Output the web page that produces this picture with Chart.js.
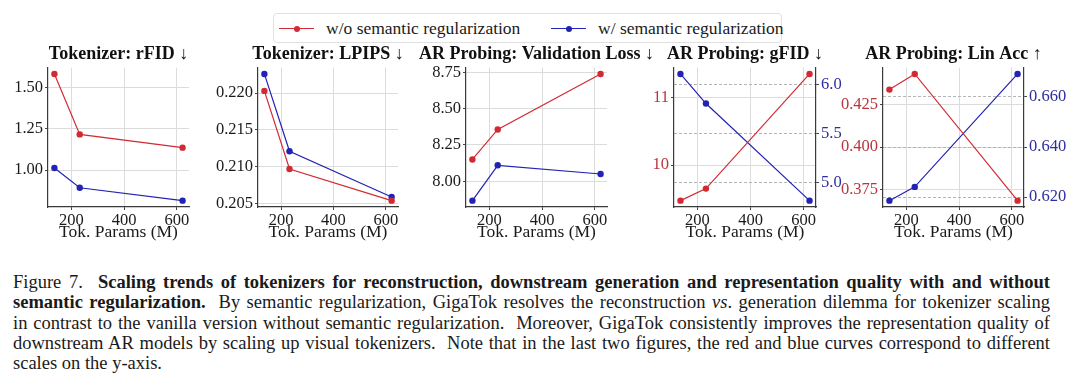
<!DOCTYPE html>
<html><head><meta charset="utf-8">
<script src="https://cdn.jsdelivr.net/npm/chart.js@4/dist/chart.umd.min.js"></script>
<style>
html,body{margin:0;padding:0;background:#fff;}
body{width:1080px;height:391px;overflow:hidden;position:relative;font-family:'Liberation Serif','Times New Roman',serif;color:#1a1a1a;}
.cv{position:absolute;}
#legend{position:absolute;left:273px;top:13px;width:507px;height:28px;border:1px solid #e0e0e0;border-radius:4px;font-size:17.5px;background:#fff;}
.li{position:absolute;top:0;height:28px;line-height:28px;white-space:nowrap;}
.mk{position:absolute;top:14px;height:1.3px;width:35px;}
.dot{position:absolute;top:-2.4px;left:14.5px;width:6px;height:6px;border-radius:50%;}
#caption{position:absolute;left:13px;top:272px;width:1037px;font-size:18.5px;line-height:20.3px;}
.ln{text-align:justify;text-align-last:justify;}
.last{text-align:left;}
</style></head>
<body>
<div id="legend"></div>
<canvas class="cv" id="c1"></canvas>
<canvas class="cv" id="c2"></canvas>
<canvas class="cv" id="c3"></canvas>
<canvas class="cv" id="c4"></canvas>
<canvas class="cv" id="c5"></canvas>
<div id="caption">
<div class="ln">Figure 7.&nbsp; <b>Scaling trends of tokenizers for reconstruction, downstream generation and representation quality with and without</b></div>
<div class="ln"><b>semantic regularization.</b>&nbsp; By semantic regularization, GigaTok resolves the reconstruction <i>vs</i>. generation dilemma for tokenizer scaling</div>
<div class="ln">in contrast to the vanilla version without semantic regularization.&nbsp; Moreover, GigaTok consistently improves the representation quality of</div>
<div class="ln">downstream AR models by scaling up visual tokenizers.&nbsp; Note that in the last two figures, the red and blue curves correspond to different</div>
<div class="last">scales on the y-axis.</div>
</div>
<script>
// ---- data ----
const xVals = [136, 232, 622];
const xTickLabels = ['200', '400', '600'];
const seriesNames = ['w/o semantic regularization', 'w/ semantic regularization'];
const xTitle = 'Tok. Params (M)';
const titles = ['Tokenizer: rFID \u2193', 'Tokenizer: LPIPS \u2193', 'AR Probing: Validation Loss \u2193', 'AR Probing: gFID \u2193', 'AR Probing: Lin Acc \u2191'];

const rfidRed = [1.58, 1.215, 1.135];
const rfidBlue = [1.012, 0.893, 0.815];
const rfidTicks = ['1.00', '1.25', '1.50'];

const lpipsRed = [0.2203, 0.2097, 0.2054];
const lpipsBlue = [0.2226, 0.2121, 0.2059];
const lpipsTicks = ['0.205', '0.210', '0.215', '0.220'];

const lossRed = [8.15, 8.357, 8.74];
const lossBlue = [7.866, 8.11, 8.05];
const lossTicks = ['8.00', '8.25', '8.50', '8.75'];

const gfidRed = [9.47, 9.65, 11.357];
const gfidBlue = [6.105, 5.805, 4.82];
const gfidRedTicks = ['10', '11'];
const gfidBlueTicks = ['5.0', '5.5', '6.0'];

const linRed = [0.4337, 0.4429, 0.3685];
const linBlue = [0.6186, 0.6241, 0.6692];
const linRedTicks = ['0.375', '0.400', '0.425'];
const linBlueTicks = ['0.620', '0.640', '0.660'];

// ---- style ----
const RED = '#d22a32', BLUE = '#2222b4';
const RED_TXT = '#b8343e', BLUE_TXT = '#2e2e9c';
const FONT = "'Liberation Serif', 'Times New Roman', serif";
const LW = 60, TOP = 40, H = 210;

// legend (HTML)
const lg = document.getElementById('legend');
[[seriesNames[0], RED, 5, 52], [seriesNames[1], BLUE, 277, 324]].forEach(([t, c, mx, tx]) => {
  const mk = document.createElement('div'); mk.className = 'mk'; mk.style.left = mx + 'px'; mk.style.background = c;
  const d = document.createElement('div'); d.className = 'dot'; d.style.background = c; mk.appendChild(d);
  lg.appendChild(mk);
  const s = document.createElement('div'); s.className = 'li'; s.style.left = tx + 'px'; s.textContent = t; lg.appendChild(s);
});

function pad(arrs) {
  const all = [].concat(...arrs);
  const mn = Math.min(...all), mx = Math.max(...all), r = mx - mn;
  return [mn - 0.05 * r, mx + 0.05 * r];
}
function pts(ys) { return xVals.map((x, i) => ({x: x, y: ys[i]})); }
function ds(label, ys, color, axis) {
  return {label, data: pts(ys), borderColor: color, backgroundColor: color, borderWidth: 1.2,
    pointRadius: 3.2, pointBorderWidth: 0, pointHoverRadius: 3.2, yAxisID: axis, clip: false, tension: 0};
}
function yScale(labels, range, pos, txtColor, dashed) {
  return {
    type: 'linear', position: pos, min: range[0], max: range[1],
    afterBuildTicks: s => { s.ticks = labels.map(v => ({value: parseFloat(v)})); },
    afterFit: s => { s.width = LW; },
    ticks: {callback: (v, i) => labels[i], font: {family: FONT, size: 16.5}, color: txtColor, padding: 2},
    grid: {color: dashed ? '#b4b4b4' : '#dcdcdc', lineWidth: 1, tickLength: 3, tickColor: '#444', tickWidth: 1},
    border: {display: true, color: '#3a3a3a', width: 1.2, dash: dashed ? [3, 2] : []}
  };
}
function blankRight() {
  return {type: 'linear', position: 'right', min: 0, max: 1, display: true,
    ticks: {display: false}, grid: {display: false, drawTicks: false}, border: {display: false},
    afterFit: s => { s.width = LW; }};
}
function makeChart(id, plotLeft, plotRight, title, datasets, yLeft, yRight) {
  const cv = document.getElementById(id);
  const w = plotRight - plotLeft + 2 * LW;
  cv.width = w; cv.height = H;
  cv.style.left = (plotLeft - LW) + 'px'; cv.style.top = TOP + 'px';
  cv.style.width = w + 'px'; cv.style.height = H + 'px';
  const xr = pad([xVals]);
  const scales = {
    x: {
      type: 'linear', min: xr[0], max: xr[1],
      afterBuildTicks: s => { s.ticks = xTickLabels.map(v => ({value: parseFloat(v)})); },
      afterFit: s => { s.height = 43; },
      ticks: {callback: (v, i) => xTickLabels[i], font: {family: FONT, size: 16.5}, color: '#1a1a1a', padding: 1, maxRotation: 0},
      grid: {color: '#dcdcdc', lineWidth: 1, tickLength: 3, tickColor: '#444'},
      border: {display: true, color: '#3a3a3a', width: 1.2},
      title: {display: true, text: xTitle, font: {family: FONT, size: 17.5}, color: '#1a1a1a', padding: {top: 0, bottom: 7}}
    },
    y: yLeft,
    y2: yRight || blankRight()
  };
  new Chart(cv, {
    type: 'line',
    data: {datasets},
    options: {
      responsive: false, animation: false, devicePixelRatio: 1,
      layout: {padding: 0},
      plugins: {
        legend: {display: false}, tooltip: {enabled: false},
        title: {display: true, text: title, color: '#111',
          font: {family: FONT, size: 18, weight: 'bold', lineHeight: 1.2}, padding: {top: 4, bottom: 2}}
      },
      scales
    }
  });
}

Chart.defaults.font.family = FONT;
makeChart('c1', 48, 189, titles[0],
  [ds(seriesNames[0], rfidRed, RED, 'y'), ds(seriesNames[1], rfidBlue, BLUE, 'y')],
  yScale(rfidTicks, pad([rfidRed, rfidBlue]), 'left', '#1a1a1a', false));
makeChart('c2', 258, 398, titles[1],
  [ds(seriesNames[0], lpipsRed, RED, 'y'), ds(seriesNames[1], lpipsBlue, BLUE, 'y')],
  yScale(lpipsTicks, pad([lpipsRed, lpipsBlue]), 'left', '#1a1a1a', false));
makeChart('c3', 466, 607, titles[2],
  [ds(seriesNames[0], lossRed, RED, 'y'), ds(seriesNames[1], lossBlue, BLUE, 'y')],
  yScale(lossTicks, pad([lossRed, lossBlue]), 'left', '#1a1a1a', false));
makeChart('c4', 674, 816, titles[3],
  [ds(seriesNames[0], gfidRed, RED, 'y'), ds(seriesNames[1], gfidBlue, BLUE, 'y2')],
  yScale(gfidRedTicks, pad([gfidRed]), 'left', RED_TXT, false),
  yScale(gfidBlueTicks, pad([gfidBlue]), 'right', BLUE_TXT, true));
makeChart('c5', 883, 1024, titles[4],
  [ds(seriesNames[0], linRed, RED, 'y'), ds(seriesNames[1], linBlue, BLUE, 'y2')],
  yScale(linRedTicks, pad([linRed]), 'left', RED_TXT, false),
  yScale(linBlueTicks, pad([linBlue]), 'right', BLUE_TXT, true));
</script>
</body></html>
